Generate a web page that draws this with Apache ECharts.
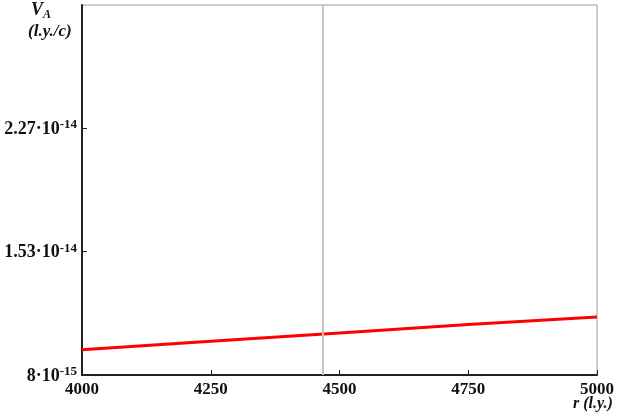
<!DOCTYPE html>
<html>
<head>
<meta charset="utf-8">
<script src="https://cdn.jsdelivr.net/npm/echarts@6/dist/echarts.min.js"></script>
<style>
html, body { margin: 0; padding: 0; background: #fff; }
#chartBox { width: 623px; height: 417px; }
</style>
</head>
<body>
<div id="chartBox"></div>
<script>
// r (l.y.) and V_A (l.y./c)
var rValues = [4000, 4250, 4500, 4750, 5000];
var vaValues = [9.5e-15, 1.0e-14, 1.05e-14, 1.1e-14, 1.145e-14];
// y ticks and their printed labels (mantissa, exponent)
var yTickValues = [8e-15, 1.5333e-14, 2.2667e-14];
var yTickMant = ['8·10', '1.53·10', '2.27·10'];
var yTickExp = ['-15', '-14', '-14'];
// grey vertical marker line
var markerR = 4468;

var serif = '"Liberation Serif", "DejaVu Serif", serif';
var chartLine = echarts.init(document.getElementById('chartBox'));

var option = {
    animation: false,
    grid: {
        left: 82,
        right: 26,
        top: 5,
        bottom: 42,
        show: true,
        borderColor: '#9a9a9a',
        borderWidth: 1
    },
    xAxis: {
        type: 'value',
        min: 4000,
        max: 5000,
        interval: 250,
        axisLine: { lineStyle: { color: '#222', width: 2 } },
        axisTick: { inside: true, length: 5, lineStyle: { color: '#222' } },
        axisLabel: {
            margin: 6,
            color: '#111',
            fontSize: 17,
            fontWeight: 'bold',
            fontFamily: serif,
            formatter: function (v) { return String(v); }
        },
        splitLine: { show: false }
    },
    yAxis: {
        type: 'value',
        min: 8e-15,
        max: 3e-14,
        axisLine: { show: true, lineStyle: { color: '#222', width: 2 } },
        axisTick: {
            inside: true,
            length: 5,
            customValues: yTickValues,
            lineStyle: { color: '#222' }
        },
        axisLabel: {
            margin: 5,
            customValues: yTickValues,
            formatter: function (v) {
                var best = 0;
                for (var i = 0; i < yTickValues.length; i++) {
                    if (Math.abs(yTickValues[i] - v) < Math.abs(yTickValues[best] - v)) best = i;
                }
                return '{m|' + yTickMant[best] + '}{e|' + yTickExp[best] + '}';
            },
            rich: {
                m: { fontSize: 18, fontWeight: 'bold', fontFamily: serif, color: '#111', lineHeight: 20, verticalAlign: 'bottom' },
                e: { fontSize: 13, fontWeight: 'bold', fontFamily: serif, color: '#111', lineHeight: 20, verticalAlign: 'top', padding: [0, 0, 8, 0] }
            }
        },
        splitLine: { show: false }
    },
    graphic: [
        {
            type: 'text',
            left: 31,
            top: 1,
            style: {
                text: '{v|V}{s|A}',
                rich: {
                    v: { fontSize: 18, fontWeight: 'bold', fontStyle: 'italic', fontFamily: serif, fill: '#111' },
                    s: { fontSize: 12, fontWeight: 'bold', fontStyle: 'italic', fontFamily: serif, fill: '#111', padding: [9, 0, 0, 0] }
                }
            }
        },
        {
            type: 'text',
            left: 28,
            top: 23,
            style: {
                text: '(l.y./c)',
                fontSize: 17,
                fontWeight: 'bold',
                fontStyle: 'italic',
                fontFamily: serif,
                fill: '#111'
            }
        },
        {
            type: 'text',
            left: 573,
            top: 396,
            style: {
                text: 'r (l.y.)',
                fontSize: 16,
                fontWeight: 'bold',
                fontStyle: 'italic',
                fontFamily: serif,
                fill: '#111'
            }
        }
    ],
    series: [
        {
            type: 'line',
            data: rValues.map(function (r, i) { return [r, vaValues[i]]; }),
            showSymbol: false,
            lineStyle: { color: '#ff0000', width: 3 },
            markLine: {
                silent: true,
                symbol: 'none',
                label: { show: false },
                lineStyle: { color: '#c4c4c4', width: 2, type: 'solid' },
                data: [{ xAxis: markerR }]
            }
        }
    ]
};
chartLine.setOption(option);
</script>
</body>
</html>
